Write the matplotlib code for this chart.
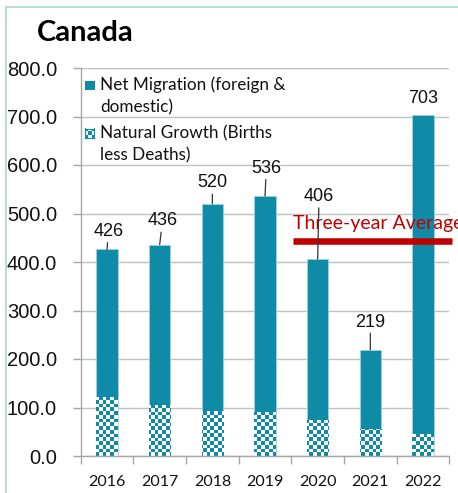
import numpy as np
import matplotlib
matplotlib.use("Agg")
import matplotlib.pyplot as plt
from matplotlib.colors import ListedColormap
from matplotlib.patches import Rectangle
from matplotlib.lines import Line2D

# ---- data ----
years = ["2016", "2017", "2018", "2019", "2020", "2021", "2022"]
totals = [426, 436, 520, 536, 406, 219, 703]
natural_growth = [122, 105, 93, 90, 74, 55, 45]
net_migration = [t - n for t, n in zip(totals, natural_growth)]
avg_years = 3
three_year_avg = sum(totals[-avg_years:]) / avg_years
yticks = [0, 100, 200, 300, 400, 500, 600, 700, 800]

# label offsets (points) for data labels
label_offsets = [(1, 13), (2, 17), (0, 15), (1, 20), (1, 45), (0, 20), (0, 12)]
label_leader = [True, True, True, True, True, True, False]

TEAL = "#0F8BA8"
RED = "#C00000"
GRID = "#C0C0C0"
AX = "#A6A6A6"

W, H = 458, 493
fig = plt.figure(figsize=(W / 100, H / 100), dpi=100)
ax = fig.add_axes([80.7 / W, 1 - 456 / H, (449.3 - 80.7) / W, (456 - 68) / H])

x = np.arange(len(years))
bw = 0.41
nat_bars = ax.bar(x, natural_growth, bw, color="white", edgecolor="#9ED3DF",
                  linewidth=0.6, zorder=2)
mig_bars = ax.bar(x, net_migration, bw, bottom=natural_growth, color=TEAL,
                  edgecolor="#9ED3DF", linewidth=0.6, zorder=2)

# checkerboard fill for natural growth
cell_px = 3.7
cols = int(round((449.3 - 80.7) / cell_px))
rows = int(round((456 - 68) / cell_px))
checker = np.add.outer(np.arange(rows), np.arange(cols)) % 2
cmap = ListedColormap([TEAL, "white"])
for b in nat_bars:
    im = ax.imshow(checker, extent=(-0.5, len(years) - 0.5, 0, 800), origin="lower",
                   cmap=cmap, interpolation="nearest", aspect="auto", zorder=2.1)
    im.set_clip_path(b)

ax.set_xlim(-0.5, len(years) - 0.5)
ax.set_ylim(0, 800)

# axes styling
ax.set_yticks(yticks)
ax.set_yticklabels([f"{v:.1f}" for v in yticks], fontsize=14.5,
                   family="Liberation Sans", color="#111111")
ax.set_xticks(x)
ax.set_xticklabels(years, fontsize=11.5, family="Lato", color="#111111")
ax.set_xticks(np.arange(-0.5, len(years)), minor=True)
ax.tick_params(axis="x", which="major", length=0, pad=14)
ax.tick_params(axis="x", which="minor", length=6, color=AX, width=1)
ax.tick_params(axis="y", length=6, color=AX, width=1, pad=11)
ax.grid(axis="y", color=GRID, linewidth=1)
ax.set_axisbelow(True)
for s in ["top", "right"]:
    ax.spines[s].set_visible(False)
for s in ["left", "bottom"]:
    ax.spines[s].set_color(AX)
    ax.spines[s].set_linewidth(1)

# data labels
for i, t in enumerate(totals):
    dx, dy = label_offsets[i]
    props = dict(arrowstyle="-", color="#333333", lw=0.9, shrinkA=0, shrinkB=0) if label_leader[i] else None
    ax.annotate(str(t), xy=(x[i], t), xytext=(dx, dy), textcoords="offset points",
                ha="center", va="center", fontsize=13, family="Liberation Sans",
                color="#111111", arrowprops=props, zorder=6)

# three-year average
avg_x0, avg_x1 = 3.53, 6.56
ax.plot([avg_x0, avg_x1], [three_year_avg, three_year_avg], color=RED, lw=4.7,
        solid_capstyle="butt", clip_on=False, zorder=5)
ax.annotate("Three-year Average", xy=(avg_x0, three_year_avg), xytext=(0, 13),
            textcoords="offset points", ha="left", va="center", fontsize=14,
            family="Lato", color=RED, annotation_clip=False, zorder=5)

# title
fig.text(37 / W, 1 - 33 / H, "Canada", fontsize=21, fontweight="bold",
         family="Lato", ha="left", va="center", color="black")

# legend (manual)
LFS = 12.3
fig.add_artist(Rectangle((85 / W, 1 - 90 / H), 9.5 / W, 9.5 / H, transform=fig.transFigure,
                         facecolor=TEAL, edgecolor="none"))
fig.text(100 / W, 1 - 85 / H, "Net Migration (foreign &", fontsize=LFS, family="Lato",
         ha="left", va="center", color="#111111")
fig.text(100 / W, 1 - 107 / H, "domestic)", fontsize=LFS, family="Lato",
         ha="left", va="center", color="#111111")
lax = fig.add_axes([85 / W, 1 - 138 / H, 9.5 / W, 9.5 / H])
lax.imshow(np.add.outer(np.arange(3), np.arange(3)) % 2, cmap=cmap,
           interpolation="nearest", aspect="auto")
lax.set_xticks([]); lax.set_yticks([])
for s in lax.spines.values():
    s.set_color(TEAL)
fig.text(100 / W, 1 - 133 / H, "Natural Growth (Births", fontsize=LFS, family="Lato",
         ha="left", va="center", color="#111111")
fig.text(100 / W, 1 - 155 / H, "less Deaths)", fontsize=LFS, family="Lato",
         ha="left", va="center", color="#111111")

# outer frame lines
fig.add_artist(Line2D([6 / W, 6 / W], [0, 1 - 7 / H], transform=fig.transFigure,
                      color="#A6DCCB", lw=1.2))
fig.add_artist(Line2D([6 / W, 1], [1 - 7 / H, 1 - 7 / H], transform=fig.transFigure,
                      color="#A6DCCB", lw=1.2))

fig.savefig("out.png", dpi=100)
